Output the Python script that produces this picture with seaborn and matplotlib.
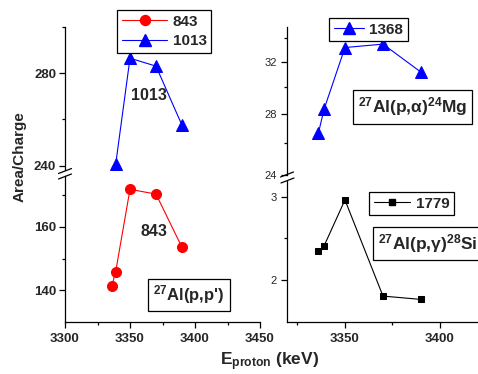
import matplotlib
matplotlib.use('Agg')
import matplotlib.pyplot as plt
import seaborn as sns
from matplotlib.lines import Line2D
from matplotlib.ticker import FixedLocator, ScalarFormatter, NullFormatter

# proton energy (keV)
energy = [3336, 3339, 3350, 3370, 3390]
energy_1013 = [3339, 3350, 3370, 3390]

# area/charge per gamma line (keV)
y_843 = [141.3, 145.9, 171.8, 170.3, 153.5]
y_1013 = [240.7, 286.4, 283.0, 257.5]
y_1368 = [26.67, 28.36, 33.19, 33.48, 31.17]
y_1779 = [2.35, 2.41, 2.96, 1.81, 1.77]

sns.set_style('ticks')
plt.rcParams['font.family'] = ['Liberation Sans', 'DejaVu Sans']
plt.rcParams['mathtext.fontset'] = 'custom'
plt.rcParams['mathtext.rm'] = 'Liberation Sans'
plt.rcParams['mathtext.bf'] = 'Liberation Sans:bold'
plt.rcParams['mathtext.it'] = 'Liberation Sans:italic'
plt.rcParams['mathtext.default'] = 'bf'

W, H = 478, 374
fig = plt.figure(figsize=(W / 100, H / 100), dpi=100)


def px_axes(x0, y0, x1, y1):
    # pixel box (top-left origin) -> figure axes
    return fig.add_axes([x0 / W, 1 - y1 / H, (x1 - x0) / W, (y1 - y0) / H])


ax_lt = px_axes(65, 26.7, 260, 170)
ax_lb = px_axes(65, 176, 260, 322)
ax_rt = px_axes(287, 26.7, 478, 174.7)
ax_rb = px_axes(287, 180.7, 478, 322)

sns.lineplot(x=energy, y=y_843, ax=ax_lb, color='red', marker='o', markersize=7.2,
             markeredgecolor='red', linewidth=0.8, sort=False, label='843')
sns.lineplot(x=energy_1013, y=y_1013, ax=ax_lt, color='blue', marker='^', markersize=8,
             markeredgecolor='blue', linewidth=0.8, sort=False, label='1013')
sns.lineplot(x=energy, y=y_1368, ax=ax_rt, color='blue', marker='^', markersize=8,
             markeredgecolor='blue', linewidth=0.8, sort=False, label='1368')
sns.lineplot(x=energy, y=y_1779, ax=ax_rb, color='black', marker='s', markersize=5,
             markeredgecolor='black', linewidth=0.8, sort=False, label='1779')

for ax in (ax_lt, ax_lb, ax_rt, ax_rb):
    ax.get_legend().remove()
    ax.set_xlabel('')
    ax.set_ylabel('')
    ax.patch.set_alpha(0)
    for s in ('top', 'right'):
        ax.spines[s].set_visible(False)
    for s in ('left', 'bottom'):
        ax.spines[s].set_linewidth(0.9)
        ax.spines[s].set_color('black')
    ax.tick_params(which='major', direction='out', length=4.3, width=0.9, color='black')
    ax.tick_params(which='minor', direction='out', length=2.3, width=0.9, color='black')

# left panel
for ax in (ax_lt, ax_lb):
    ax.set_xlim(3300, 3450)
ax_lt.set_ylim(238.2, 300)
ax_lb.set_ylim(130, 176)
ax_lt.spines['bottom'].set_visible(False)
ax_lt.tick_params(axis='x', which='both', bottom=False, labelbottom=False)
ax_lt.yaxis.set_major_locator(FixedLocator([240, 280]))
ax_lt.yaxis.set_minor_locator(FixedLocator([260, 300]))
ax_lb.yaxis.set_major_locator(FixedLocator([140, 160]))
ax_lb.yaxis.set_minor_locator(FixedLocator([150, 170]))
ax_lb.xaxis.set_major_locator(FixedLocator([3300, 3350, 3400, 3450]))
ax_lb.xaxis.set_minor_locator(FixedLocator([3325, 3375, 3425]))
for ax in (ax_lt, ax_lb):
    ax.tick_params(axis='y', labelsize=9.5, pad=2)
    for lab in ax.get_yticklabels():
        lab.set_fontweight('bold')
ax_lb.tick_params(axis='x', labelsize=9.5, pad=3.5)
for lab in ax_lb.get_xticklabels():
    lab.set_fontweight('bold')

# right panel
for ax in (ax_rt, ax_rb):
    ax.set_xlim(3319.5, 3420)
ax_rt.set_yscale('log')
ax_rt.set_ylim(24, 35)
ax_rb.set_ylim(1.5, 3.19)
ax_rt.spines['bottom'].set_visible(False)
ax_rt.tick_params(axis='x', which='both', bottom=False, labelbottom=False)
ax_rt.yaxis.set_major_locator(FixedLocator([24, 28, 32]))
ax_rt.yaxis.set_minor_locator(FixedLocator([26, 30, 34]))
ax_rt.yaxis.set_major_formatter(ScalarFormatter())
ax_rt.yaxis.set_minor_formatter(NullFormatter())
ax_rb.yaxis.set_major_locator(FixedLocator([2, 3]))
ax_rb.yaxis.set_minor_locator(FixedLocator([2.5]))
ax_rb.xaxis.set_major_locator(FixedLocator([3350, 3400]))
ax_rb.xaxis.set_minor_locator(FixedLocator([3325, 3375]))
for ax in (ax_rt, ax_rb):
    ax.tick_params(axis='y', labelsize=8, pad=3)
ax_rb.tick_params(axis='x', labelsize=9.5, pad=3.5)
for lab in ax_rb.get_xticklabels():
    lab.set_fontweight('bold')

# axis break marks
for cx, cy in [(65, 171), (65, 176.5), (287, 174.5), (287.5, 180.5)]:
    fig.add_artist(Line2D([(cx - 6.5) / W, (cx + 6.5) / W],
                          [1 - (cy + 2.5) / H, 1 - (cy - 2.5) / H],
                          color='black', linewidth=0.9))

# legends
h843 = Line2D([], [], color='red', marker='o', markersize=7.2, linewidth=0.8)
h1013 = Line2D([], [], color='blue', marker='^', markersize=8, linewidth=0.8)
h1368 = Line2D([], [], color='blue', marker='^', markersize=8, linewidth=0.8)
h1779 = Line2D([], [], color='black', marker='s', markersize=5, linewidth=0.8)
leg_kw = dict(loc='upper left', frameon=True, fancybox=False, edgecolor='black',
              framealpha=1, borderpad=0.3, handletextpad=0.35,
              borderaxespad=0, prop={'weight': 'bold', 'size': 11})
l1 = fig.legend([h843, h1013], ['843', '1013'], bbox_to_anchor=(117 / W, 1 - 10 / H),
                handlelength=3.0, labelspacing=0.35, **leg_kw)
l2 = fig.legend([h1368], ['1368'], bbox_to_anchor=(329 / W, 1 - 18 / H),
                handlelength=2.0, labelspacing=0.2, **leg_kw)
l3 = fig.legend([h1779], ['1779'], bbox_to_anchor=(369 / W, 1 - 192 / H),
                handlelength=2.4, labelspacing=0.2, **leg_kw)
for lg in (l1, l2, l3):
    lg.get_frame().set_linewidth(0.9)

# annotations
fig.text(148.5 / W, 1 - 96 / H, '1013', ha='center', va='center', fontsize=11.5, fontweight='bold')
fig.text(154 / W, 1 - 231 / H, '843', ha='center', va='center', fontsize=11.5, fontweight='bold')
box = dict(boxstyle='square,pad=0.3', facecolor='white', edgecolor='black', linewidth=0.9)
fig.text(189 / W, 1 - 295 / H, "$^{27}$Al(p,p')", ha='center', va='center',
         fontsize=12, fontweight='bold', bbox=box)
fig.text(412.5 / W, 1 - 107 / H, '$^{27}$Al(p,α)$^{24}$Mg', ha='center', va='center',
         fontsize=12.5, fontweight='bold', bbox=box)
fig.text(378 / W, 1 - 243.5 / H, '$^{27}$Al(p,γ)$^{28}$Si', ha='left', va='center',
         fontsize=12.5, fontweight='bold', bbox=box)

# axis titles
fig.text(20 / W, 1 - 157 / H, 'Area/Charge', rotation=90, ha='center', va='center',
         fontsize=11, fontweight='bold')
fig.text(270 / W, 1 - 362 / H, 'E$_{proton}$ (keV)', ha='center', va='center',
         fontsize=12.5, fontweight='bold')

fig.savefig('out.png', dpi=100)
